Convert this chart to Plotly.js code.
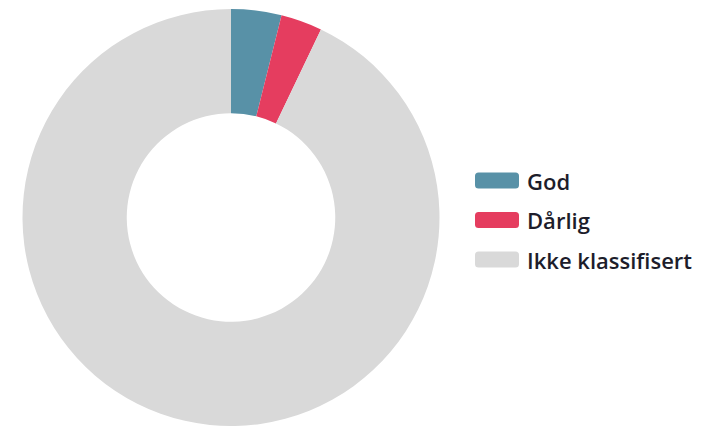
<!DOCTYPE html>
<html>
<head>
<meta charset="utf-8">
<script src="https://cdn.plot.ly/plotly-3.0.1.min.js"></script>
<style>html,body{margin:0;padding:0;background:#fff;}#chart{width:702px;height:426px;}</style>
</head>
<body>
<div id="chart"></div>
<script>
var labels = ["God", "Dårlig", "Ikke klassifisert"];
var values = [3.9, 3.2, 92.9];
var colors = ["#5891a7", "#e53d5f", "#d9d9d9"];

var W = 702, H = 426, MT = 9;
function px(x) { return x / W; }
function py(y) { return (H - y) / (H - MT); }

var shapes = [], annotations = [];
var rowY = [180.5, 220, 259.5];
var sw = 44, sh = 16, r = 3.5;
for (var i = 0; i < labels.length; i++) {
  var hw = sw / 2, hh = sh / 2;
  var p = "M" + (-hw + r) + "," + (-hh) + " L" + (hw - r) + "," + (-hh) +
          " Q" + hw + "," + (-hh) + " " + hw + "," + (-hh + r) +
          " L" + hw + "," + (hh - r) + " Q" + hw + "," + hh + " " + (hw - r) + "," + hh +
          " L" + (-hw + r) + "," + hh + " Q" + (-hw) + "," + hh + " " + (-hw) + "," + (hh - r) +
          " L" + (-hw) + "," + (-hh + r) + " Q" + (-hw) + "," + (-hh) + " " + (-hw + r) + "," + (-hh) + " Z";
  shapes.push({
    type: "path", xref: "paper", yref: "paper",
    xsizemode: "pixel", ysizemode: "pixel",
    xanchor: px(497), yanchor: py(rowY[i]),
    path: p, fillcolor: colors[i], line: {width: 0}
  });
  annotations.push({
    xref: "paper", yref: "paper", x: px(525), y: py(rowY[i] + 0.5),
    xanchor: "left", yanchor: "middle", showarrow: false,
    text: labels[i],
    font: {family: "Open Sans", size: 22, weight: 600, color: "#1d1d2b"}
  });
}

var data = [{
  type: "pie",
  labels: labels,
  values: values,
  marker: {colors: colors, line: {width: 0}},
  hole: 0.5,
  sort: false,
  direction: "clockwise",
  rotation: 0,
  textinfo: "none",
  hoverinfo: "none",
  showlegend: false,
  domain: {x: [px(231 - 215), px(231 + 215)], y: [0, 1]}
}];

var layout = {
  width: W, height: H,
  margin: {l: 0, r: 0, t: MT, b: 0, pad: 0},
  paper_bgcolor: "#ffffff",
  plot_bgcolor: "#ffffff",
  showlegend: false,
  shapes: shapes,
  annotations: annotations
};

Plotly.newPlot("chart", data, layout, {displayModeBar: false, staticPlot: true});
</script>
</body>
</html>
